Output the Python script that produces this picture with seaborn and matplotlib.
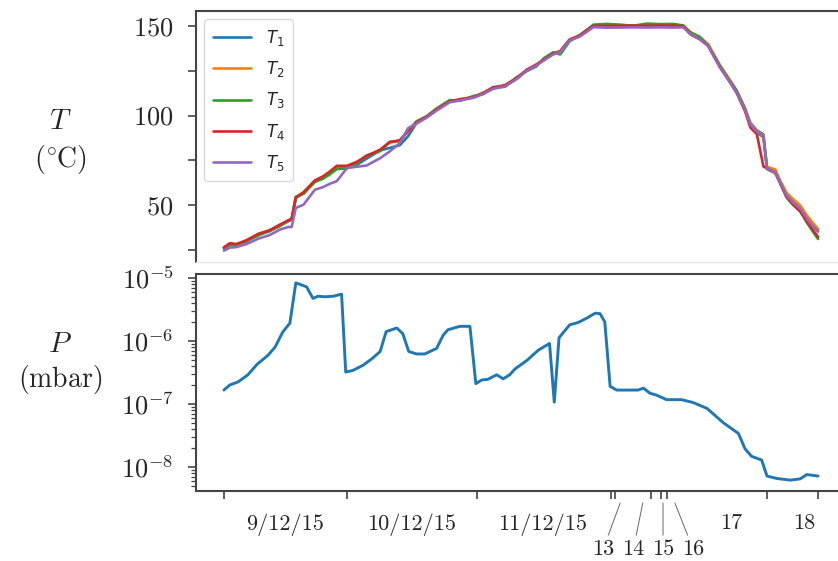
import numpy as np
import pandas as pd
import matplotlib
matplotlib.use("Agg")
import matplotlib.pyplot as plt
import matplotlib.ticker as mticker
from matplotlib.font_manager import FontProperties
import seaborn as sns

# ---- data -------------------------------------------------------------
# elapsed time (arbitrary units) for the temperature log
t_T = [0, 1.0, 2.1, 3.8, 5.8, 7.7, 9.4, 10.8, 11.4, 12.1, 13.4, 15.3, 16.7,
       17.8, 19.0, 20.7, 22.3, 24.0, 26.3, 27.9, 29.6, 31.0, 32.4, 34.1, 35.8,
       38.0, 39.7, 42.0, 43.7, 45.3, 47.3, 49.3, 51.0, 52.6, 53.8, 55.4, 56.6,
       58.2, 59.9, 62.2, 64.4, 66.7, 68.9, 71.2, 73.4, 75.6, 77.3, 78.5, 80.1,
       81.5, 83.5, 85.2, 86.3, 87.7, 88.6, 89.7, 90.8, 91.4, 92.8, 93.6, 94.7,
       95.8, 97.0, 98.1, 99.0, 100]

T1 = [26.3, 28.2, 27.6, 30.0, 33.7, 35.6, 38.7, 41.1, 42.1, 54.1,
      56.9, 63.3, 65.6, 68.0, 71.7, 71.7, 72.5, 76.0, 80.6, 82.0,
      83.5, 88.5, 95.8, 99.1, 103.2, 107.8, 108.7, 110.2, 112.4, 115.2,
      116.5, 120.8, 125.4, 128.2, 130.9, 134.3, 135.6, 142.1, 144.3, 149.8,
      149.4, 149.5, 149.8, 149.6, 149.8, 149.6, 149.8, 145.8, 143.0, 139.3,
      127.2, 118.9, 113.3, 104.0, 96.0, 91.8, 89.5, 70.8, 68.9, 63.3,
      55.9, 52.0, 48.6, 43.0, 39.5, 35.5]
T2 = [26.8, 28.5, 27.9, 30.4, 34.0, 35.9, 38.9, 41.4, 42.4, 54.6,
      57.4, 63.6, 65.9, 68.3, 71.9, 71.9, 74.0, 77.4, 80.9, 85.0,
      85.9, 91.2, 96.0, 99.4, 103.0, 107.6, 109.0, 110.4, 112.6, 115.4,
      116.8, 120.5, 125.2, 128.5, 131.2, 134.6, 135.9, 142.4, 144.6, 150.0,
      149.6, 149.8, 150.0, 149.9, 150.0, 149.9, 150.0, 146.6, 143.6, 139.8,
      128.0, 119.6, 114.0, 104.2, 95.6, 91.4, 88.8, 71.5, 70.0, 64.0,
      57.0, 53.5, 50.0, 44.5, 40.8, 36.9]
T3 = [26.0, 27.9, 28.3, 30.2, 33.3, 36.0, 38.4, 41.6, 42.6, 54.8,
      56.4, 63.0, 64.9, 67.2, 70.2, 70.6, 73.2, 77.8, 80.2, 85.2,
      86.0, 91.6, 96.8, 99.6, 104.0, 108.6, 108.2, 110.9, 112.0, 115.9,
      116.0, 121.4, 124.8, 127.4, 131.8, 135.2, 134.0, 141.4, 144.8, 150.6,
      151.0, 150.6, 150.0, 151.2, 150.9, 151.0, 150.2, 146.2, 143.8, 139.0,
      127.6, 119.2, 113.9, 103.6, 94.2, 90.4, 88.0, 70.2, 68.0, 62.4,
      54.4, 50.2, 46.8, 40.5, 36.0, 31.3]
T4 = [26.6, 29.0, 28.5, 30.6, 34.2, 36.2, 39.3, 41.6, 42.4, 54.4,
      57.2, 63.9, 66.2, 68.8, 72.0, 72.0, 74.1, 77.5, 81.0, 85.3,
      86.2, 91.5, 96.2, 99.3, 103.5, 107.9, 109.1, 110.1, 112.8, 115.6,
      116.9, 121.0, 125.6, 128.4, 131.0, 134.5, 135.8, 142.3, 144.6, 150.0,
      149.9, 150.0, 150.1, 150.0, 150.1, 150.0, 149.9, 145.2, 142.4, 138.8,
      126.8, 118.4, 112.6, 102.4, 93.4, 89.6, 71.7, 70.6, 68.2, 62.6,
      54.8, 50.6, 46.6, 41.0, 37.0, 32.4]
T5 = [24.8, 26.5, 26.8, 28.5, 31.5, 33.5, 36.5, 38.0, 38.0, 48.6,
      50.4, 58.7, 60.2, 62.0, 63.5, 70.8, 71.5, 72.2, 76.3, 80.0,
      84.7, 93.0, 95.5, 98.8, 102.8, 107.4, 108.4, 109.9, 112.1, 114.9,
      116.2, 120.4, 125.0, 127.9, 130.6, 134.0, 135.3, 141.8, 144.0, 149.2,
      148.9, 149.0, 149.1, 149.0, 149.1, 149.0, 149.1, 145.4, 142.6, 138.9,
      126.8, 118.6, 113.0, 103.0, 95.0, 91.0, 88.6, 70.6, 68.4, 63.0,
      55.6, 51.6, 48.2, 42.6, 38.8, 35.6]
sensor_names = ["$T_1$", "$T_2$", "$T_3$", "$T_4$", "$T_5$"]

# elapsed time for the pressure log and chamber pressure (mbar)
t_P = [0, 1.0, 2.4, 4.0, 5.6, 7.4, 8.6, 9.9, 11.1, 12.1,
       13.9, 15.0, 15.8, 17.0, 18.4, 19.8, 20.5, 21.7, 23.4, 24.9,
       26.3, 27.3, 29.1, 30.1, 31.1, 32.4, 33.8, 35.8, 36.9, 37.7,
       39.7, 41.4, 42.4, 43.4, 44.4, 45.9, 47.0, 48.1, 49.0, 51.0,
       52.9, 54.8, 55.6, 56.4, 58.2, 59.6, 61.1, 62.5, 63.3, 64.1,
       65.0, 66.1, 69.7, 70.6, 71.7, 72.8, 74.5, 77.0, 79.0, 81.3,
       84.1, 86.6, 87.7, 88.8, 90.5, 91.4, 93.0, 95.3, 97.0, 98.1, 100]
P = [1.66e-7, 2.0e-7, 2.24e-7, 2.88e-7, 4.27e-7, 5.89e-7, 7.94e-7, 1.38e-6, 1.91e-6, 8.3e-6,
     7.2e-6, 4.7e-6, 5.1e-6, 5.0e-6, 5.1e-6, 5.5e-6, 3.2e-7, 3.4e-7, 4.1e-7, 5.2e-7,
     6.8e-7, 1.4e-6, 1.6e-6, 1.3e-6, 6.8e-7, 6.2e-7, 6.2e-7, 7.6e-7, 1.23e-6, 1.5e-6,
     1.7e-6, 1.7e-6, 2.1e-7, 2.4e-7, 2.45e-7, 2.9e-7, 2.5e-7, 2.9e-7, 3.6e-7, 4.9e-7,
     7.1e-7, 9.1e-7, 1.07e-7, 1.12e-6, 1.8e-6, 1.95e-6, 2.3e-6, 2.75e-6, 2.7e-6, 2.0e-6,
     1.9e-7, 1.66e-7, 1.66e-7, 1.78e-7, 1.48e-7, 1.38e-7, 1.17e-7, 1.17e-7, 1.05e-7, 8.5e-8,
     5.0e-8, 3.4e-8, 1.95e-8, 1.48e-8, 1.29e-8, 7.2e-9, 6.6e-9, 6.2e-9, 6.5e-9, 7.6e-9, 7.2e-9]

# day boundaries and day labels on the time axis
day_edges = [0, 20.7, 42.6, 65.1, 65.9, 71.8, 73.6, 74.6, 91.4, 100]
day_label_pos = [10.3, 31.6, 53.7, 85.4, 97.6]
day_labels = ["9/12/15", "10/12/15", "11/12/15", "17", "18"]
short_day_labels = ["13", "14", "15", "16"]
short_day_anchor = [66.7, 70.5, 73.9, 75.9]
short_day_text = [63.8, 68.9, 73.9, 79.0]

# ---- style ------------------------------------------------------------
sns.set_style("ticks")
plt.rcParams["font.family"] = ["cmr10"]
plt.rcParams["mathtext.fontset"] = "cm"
plt.rcParams["axes.formatter.use_mathtext"] = True
plt.rcParams["axes.unicode_minus"] = False
edge = "#444444"
palette = ["#1f77b4", "#ff7f0e", "#2ca02c", "#d62728", "#9467bd"]

fig = plt.figure(figsize=(8.38, 5.61), dpi=100)
W, H = 838.0, 561.0
ax1 = fig.add_axes([196 / W, 1 - 262 / H, (846 - 196) / W, (262 - 11) / H])
ax2 = fig.add_axes([196 / W, 1 - 491 / H, (846 - 196) / W, (491 - 274) / H])

# ---- temperatures -----------------------------------------------------
temp = pd.DataFrame({
    "t": np.tile(t_T, 5),
    "T": np.concatenate([T1, T2, T3, T4, T5]),
    "sensor": np.repeat(sensor_names, len(t_T)),
})
sns.lineplot(data=temp, x="t", y="T", hue="sensor", palette=palette,
             estimator=None, sort=False, lw=1.9, ax=ax1, legend=False)
ax1.set_xlim(-4.7, 104.7)
ax1.set_ylim(18.5, 158.2)
ax1.set_yticks([50, 100, 150])
ax1.set_yticks([25, 75, 125], minor=True)
ax1.tick_params(axis="y", which="both", length=6, width=1.2, color=edge,
                labelsize=19, pad=10, direction="out", left=True)
ax1.tick_params(axis="x", which="both", bottom=False, labelbottom=False)
ax1.set_xlabel("")
ax1.set_ylabel("")
for s in ["left", "top"]:
    ax1.spines[s].set_color(edge)
    ax1.spines[s].set_linewidth(1.5)
ax1.spines["bottom"].set_color("#e6e6e6")
ax1.spines["bottom"].set_linewidth(1.0)
ax1.spines["right"].set_visible(False)

handles = [plt.Line2D([], [], color=c, lw=1.9) for c in palette]
ax1.legend(handles, sensor_names, loc="upper left",
           prop=FontProperties(size=12, math_fontfamily="dejavusans"),
           handlelength=2.3, handletextpad=0.9, labelspacing=0.68,
           borderpad=0.5, frameon=True, fancybox=True, framealpha=0.8,
           edgecolor="#d0d0d0", bbox_to_anchor=(0.0, 1.0), borderaxespad=0.5)

# ---- pressure ---------------------------------------------------------
sns.lineplot(x=t_P, y=P, color=palette[0], lw=2.1, ax=ax2)
ax2.set_yscale("log")
ax2.set_xlim(-4.7, 104.7)
ax2.set_ylim(10 ** -8.38, 10 ** -4.94)
ax2.yaxis.set_major_locator(mticker.LogLocator(base=10, numticks=10))
ax2.yaxis.set_minor_locator(mticker.LogLocator(base=10, subs=np.arange(2, 10), numticks=10))
ax2.yaxis.set_minor_formatter(mticker.NullFormatter())
ax2.tick_params(axis="y", which="major", length=6, width=1.2, color=edge,
                labelsize=19, pad=10, left=True)
ax2.tick_params(axis="y", which="minor", length=3.5, width=0.9, color=edge, left=True)
for s in ["left", "top", "bottom"]:
    ax2.spines[s].set_color(edge)
    ax2.spines[s].set_linewidth(1.5)
ax2.spines["right"].set_visible(False)

ax2.set_xticks(day_edges)
ax2.set_xticklabels([""] * len(day_edges))
ax2.set_xticks(day_label_pos, minor=True)
ax2.set_xticklabels(day_labels, minor=True)
ax2.tick_params(axis="x", which="major", length=6, width=1.2, color=edge, bottom=True)
ax2.tick_params(axis="x", which="minor", length=0, labelsize=16, pad=16, bottom=True)
ax2.set_xlabel("")
ax2.set_ylabel("")

for lab, xa, xt in zip(short_day_labels, short_day_anchor, short_day_text):
    ax2.annotate(lab, xy=(xa, -0.055), xycoords=("data", "axes fraction"),
                 xytext=(xt, -0.27), textcoords=("data", "axes fraction"),
                 ha="center", va="center", fontsize=16,
                 arrowprops=dict(arrowstyle="-", color="#666666", lw=0.7,
                                 shrinkA=1, shrinkB=0),
                 annotation_clip=False)

# ---- axis titles ------------------------------------------------------
fig.text(60 / W, 1 - 122 / H, "$T$", ha="center", va="center", fontsize=21)
fig.text(60 / W, 1 - 160 / H, r"$(^{\circ}\hspace{-0.06}\mathrm{C})$",
         ha="center", va="center", fontsize=20)
fig.text(60 / W, 1 - 345 / H, "$P$", ha="center", va="center", fontsize=21)
fig.text(60 / W, 1 - 380 / H, r"$(\mathrm{mbar})$", ha="center", va="center", fontsize=20)

fig.savefig("out.png", dpi=100)
